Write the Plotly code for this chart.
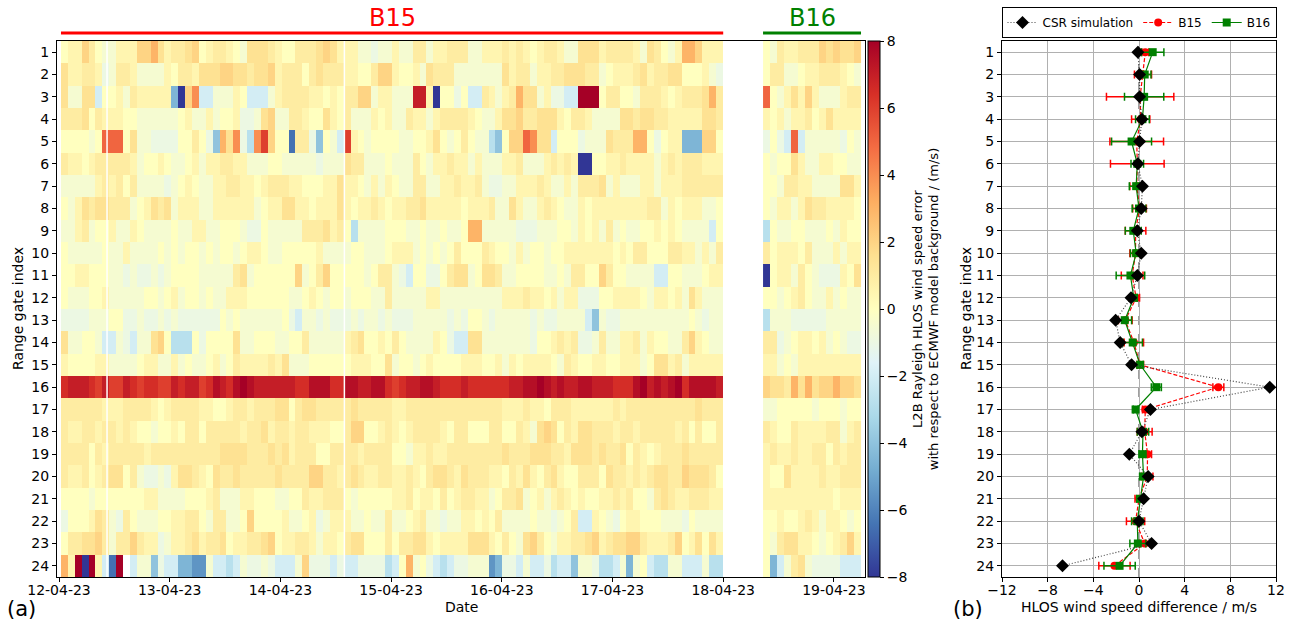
import numpy as np
import plotly.graph_objects as go

# ---------------- data ----------------
gates = list(range(1, 25))
date_ticks = [0, 1, 2, 3, 4, 5, 6, 7]  # days since 12-04-23 00:00
date_labels = ["12-04-23", "13-04-23", "14-04-23", "15-04-23",
               "16-04-23", "17-04-23", "18-04-23", "19-04-23"]

b15_period = [0.018, 6.0]     # days
b16_period = [6.36, 7.245]    # days
n_b15 = 96
n_b16 = 14
gap_days = [0.434, 2.578]     # short data gaps (white lines)

# colour-level code of each cell (L2B Rayleigh HLOS error, m/s)
level = {'0': 0.0, '1': 0.5, '2': 1.0, '3': 1.5, '4': 2.0, '5': 3.0, '6': 4.0,
         '7': 5.0, '8': 6.0, 'r': 6.5, '9': 7.0, 's': 7.5, 'X': 8.0,
         'a': -0.5, 'b': -1.0, 'c': -2.0, 'd': -2.8, 'e': -4.0, 'f': -4.5,
         'g': -5.5, 'h': -6.5, 'j': -8.0, '.': np.nan}

b15_rows = [
    "011420aa111445312234" "012210a3332100222343" "111aabaa" "1aa22a11222aa1112121" "01221aa333122221a320" "a1554111",
    "311221ba221aaaa10221" "33344332334122202322" "21100244" "1001a3222aaaaaaa3122" "a112233322a011123122" "330001ab",
    "3aa33c001a211111fj46" "ccaaa10ccca122221101" "02244a11" "aaa991j00b0cc21a1253" "3a1bbccXXX02200a2221" "01222352",
    "22230211100aaaaaa01a" "a1a001bba34aa2210031" "02aaa101" "aa211a1222210aa13342" "233310221aaaa3323322" "11111332",
    "0000a077703aabbbb002" "0be536bd68400h22be0a" "c810a000" "0aa00130a020aade0447" "633c000baaa3222550b0" "11fff440",
    "21101222221a0010aa01" "a112211aaa00aaaaabaa" "a322aaa0" "aaa20a11211a1aaa112a" "aa12121jj001121111a1" "21222111",
    "aaaaa121202aaaaba010" "aa112211012221100011" "3110a1a1" "0aa22aa112112abbaa11" "121aa1a2223a1aaa11a1" "11222222",
    "0a13233222a01323a111" "aa111111a01133110111" "31011210" "112231111101112aa31a" "a1210aa101111111122a" "10111aa0",
    "aa12a001aa10aaaa0aa1" "1aa000abb0aaaaa22231" "20daaaa0" "00aa0aa0aa055aaaaabb" "baaa00a101a2a0aa0010" "10aaaac0",
    "0aaaaa0aa1aaaa0a0a00" "a0a00a0110aa000001aa" "aa00aaa0" "111a0a0a020002100a1a" "00a00111111101022000" "2211a1a2",
    "0011000aababbaba0000" "aaaaa23a0000004a0240" "0000a022" "abc00bb0233a0332aa00" "00aa0a22004200aaaacc" "00aaa011",
    "0aaa001aaaaa00a01a00" "a0aa111000000aa010a0" "0a000aa2" "aaaaa11aaaaaaaaa1112" "1101a11bbb0011110a11" "01a31aaa",
    "bbbbaaa00bbabbababbb" "bbb0a0aaaaaa0bcaabab" "bbabaaba" "bbbaaaaabab00abaaaaa" "babbaaaaceabbaaaaaaa" "aaa0abaa",
    "3aa00accabcaa340ddd0" "b00003aa000aa002aaaa" "a1230010" "20aaaa10bcc33aaaaaaa" "b001212bba2aa112a100" "aa2410aa",
    "1000011aaaa011aa1a0a" "a01a021111213aaa0000" "00111003" "a00a010000111001a101" "1110a21001100111a033" "12a11111",
    "r999r89889r8rr889r99" "8rs9rsXs999999rrsssr" "rss99ssr" "8r99ss9rrr9rrrrrr99s" "sXs9s99ss999rrrsX9s9" "sXrssss9",
    "22222211122221012222" "11001221222330233222" "22322222" "11222222222222221112" "11022211111121222222" "22223222",
    "2112212212100a001022" "02222212231221221110" "02440012" "10122221022000220021" "a3430213322212212222" "21202002",
    "22220212222212222222" "22233332223231222002" "22212222" "00a11211222222223222" "33322133323223021012" "22322222",
    "21120123302abbab1332" "10322322222322224422" "12321122" "11210233213222110213" "10231002220322121233" "22433320",
    "0000a000000011aaaa00" "012aaa11000aa0021122" "20a00000" "11201102012211a0223a" "01a12101001121200a23" "21122211",
    "b000132ab20aaa001122" "0a22aa0400001aa01ba1" "11aa0aa2" "aa012aabaa110102aaaa" "0aaba02cc10ab011000a" "aab0aaaa",
    "0223342a224211ba1123" "12230112234011221a11" "02330002" "022331011113331020a3" "420a1122341233442111" "24013031",
    "51XjX1chX.caaebccffg" "gaccdcabbabccca4bbbc" "bccbbbbd" "c05a0bcdcbbaaagfbbca" "ccbdcceaabddcafa0cdd" "aacccadd",
]

b16_rows = [
    "0a211222434334", "022aa01122210a", "70a13141aaa122", "101a1120131111",
    "b0bc7caaaaab0a", "0a0031aa1100aa", "00a2211aaaa331", "0a11a132211110",
    "d0aa00aaa0a100", "2011102aaa1a11", "j011a20abbb103", "00a0120aa1a0aa",
    "daaabbbbbaaaaa", "22ba01101a0abb", "11a0a111111111", "43325353445443",
    "aa00000a000a00", "21002111122a12", "12112112202122", "10031111211222",
    "11111111110111", "00100121a110a0", "0a233110a01241", "0fca23abbbbccc",
]

# profile panel (m/s)
csr_sim = [-0.1, 0.05, 0.05, 0.25, 0.05, -0.1, 0.3, 0.2, -0.15, 0.2, -0.15, -0.7,
           -2.05, -1.65, -0.65, 11.45, 1.0, 0.25, -0.85, 0.8, 0.4, 0.0, 1.1, -6.7]
b15_mean = [0.55, 0.35, 0.1, 0.15, -0.2, -0.15, -0.2, 0.05, -0.3, -0.3, -0.6, -0.25,
            -1.2, -0.45, 0.1, 6.95, 0.55, 0.5, 0.75, 0.72, 0.0, -0.3, 0.5, -2.15]
b15_err = [0.3, 0.75, 2.95, 0.8, 2.35, 2.35, 0.6, 0.6, 0.9, 0.5, 0.95, 0.3,
           0.6, 0.85, 0.3, 0.48, 0.25, 0.65, 0.35, 0.5, 0.35, 0.8, 0.45, 1.37]
b16_mean = [1.2, 0.5, 0.45, 0.3, -0.65, -0.15, -0.25, 0.0, -0.5, -0.25, -0.75, -0.45,
            -1.25, -0.55, 0.1, 1.52, -0.3, 0.35, 0.3, 0.4, 0.1, -0.15, -0.1, -1.7]
b16_err = [0.98, 0.55, 1.72, 0.6, 1.75, 0.55, 0.6, 0.6, 0.7, 0.5, 1.25, 0.3,
           0.6, 0.85, 0.25, 0.44, 0.2, 0.5, 0.3, 0.35, 0.3, 0.5, 0.7, 1.37]


def decode(rows, n):
    z = []
    for r in rows:
        vals = [level.get(c, np.nan) for c in r[:n]]
        vals += [np.nan] * (n - len(vals))
        z.append(vals)
    return z


def centers(period, n):
    step = (period[1] - period[0]) / n
    return [period[0] + (k + 0.5) * step for k in range(n)]


z15 = decode(b15_rows, n_b15)
z16 = decode(b16_rows, n_b16)
x15 = centers(b15_period, n_b15)
x16 = centers(b16_period, n_b16)

W, H = 1292, 627
FONT = "DejaVu Sans"


def px(x):
    return x / W


def py(y):
    return 1 - y / H


fig = go.Figure()
fig.add_trace(go.Heatmap(z=z15, x=x15, y=gates, coloraxis="coloraxis",
                         xaxis="x", yaxis="y", showlegend=False))
fig.add_trace(go.Heatmap(z=z16, x=x16, y=gates, coloraxis="coloraxis",
                         xaxis="x", yaxis="y", showlegend=False))

# right panel
fig.add_trace(go.Scatter(
    x=b15_mean, y=gates, xaxis="x2", yaxis="y2", name="B15", legendrank=2,
    mode="lines+markers", line=dict(color="red", width=1.2, dash="4px,2px"),
    marker=dict(symbol="circle", size=8, color="red"),
    error_x=dict(type="data", array=b15_err, color="red", thickness=1.5, width=4)))
fig.add_trace(go.Scatter(
    x=b16_mean, y=gates, xaxis="x2", yaxis="y2", name="B16", legendrank=3,
    mode="lines+markers", line=dict(color="green", width=1.2),
    marker=dict(symbol="square", size=8, color="green"),
    error_x=dict(type="data", array=b16_err, color="green", thickness=1.5, width=4)))
fig.add_trace(go.Scatter(
    x=csr_sim, y=gates, xaxis="x2", yaxis="y2", name="CSR simulation", legendrank=1,
    mode="lines+markers", line=dict(color="#444444", width=1.2, dash="1px,2px"),
    marker=dict(symbol="diamond", size=10, color="black")))

shapes = []
for g in gap_days:
    shapes.append(dict(type="line", xref="x", yref="y", x0=g, x1=g, y0=0.5, y1=24.5,
                       line=dict(color="white", width=1.5)))
shapes.append(dict(type="line", xref="x", yref="paper", x0=b15_period[0], x1=b15_period[1],
                   y0=py(33), y1=py(33), line=dict(color="red", width=3)))
shapes.append(dict(type="line", xref="x", yref="paper", x0=b16_period[0], x1=b16_period[1],
                   y0=py(33), y1=py(33), line=dict(color="green", width=3)))
shapes.append(dict(type="line", xref="x2", yref="y2 domain", x0=0, x1=0, y0=0, y1=1,
                   layer="below", line=dict(color="#808080", width=1.5, dash="dash")))


def label(text, x, y, size=14, color="black", angle=0, xref="paper"):
    return dict(text=text, x=x, y=y, xref=xref, yref="paper", xanchor="center",
                yanchor="middle", textangle=angle, showarrow=False,
                font=dict(size=size, color=color, family=FONT))


annotations = [
    label("B15", sum(b15_period) / 2, py(18), size=24, color="red", xref="x"),
    label("B16", sum(b16_period) / 2, py(18), size=24, color="green", xref="x"),
    label("Date", px(461), py(607)),
    label("Range gate index", px(18), py(309), angle=-90),
    label("Range gate index", px(966), py(309), angle=-90),
    label("HLOS wind speed difference / m/s", px(1139), py(607)),
    label("(a)", px(21), py(609), size=21),
    label("(b)", px(968), py(609), size=21),
]

axis_common = dict(showline=True, linecolor="black", linewidth=1.2, mirror=True,
                   ticks="outside", ticklen=4, tickcolor="black", zeroline=False,
                   automargin=False,
                   tickfont=dict(size=14, color="black", family=FONT))

fig.update_layout(
    width=W, height=H, margin=dict(l=0, r=0, t=0, b=0, autoexpand=False),
    paper_bgcolor="white", plot_bgcolor="white",
    font=dict(family=FONT, color="black"),
    xaxis=dict(domain=[px(57), px(865)], range=[-2 / 110.7, 806 / 110.7],
               tickvals=date_ticks, ticktext=date_labels, showgrid=False,
               anchor="y", ticklabelstandoff=-4, **axis_common),
    yaxis=dict(domain=[py(577), py(41)], range=[24.5, 0.5], tickvals=gates,
               showgrid=False, anchor="x", **axis_common),
    xaxis2=dict(domain=[px(1002), px(1276)], range=[-12, 12],
                tickvals=[-12, -8, -4, 0, 4, 8, 12], showgrid=True,
                gridcolor="#b0b0b0", gridwidth=1, anchor="y2",
                ticklabelstandoff=-4, **axis_common),
    yaxis2=dict(domain=[py(577), py(41)], range=[24.5, 0.5], tickvals=gates,
                showgrid=True, gridcolor="#b0b0b0", gridwidth=1, anchor="x2",
                **axis_common),
    coloraxis=dict(
        colorscale="RdYlBu_r", cmin=-8, cmax=8,
        colorbar=dict(
            x=px(868), xanchor="left", y=py(309), yanchor="middle",
            thickness=12, thicknessmode="pixels", len=536, lenmode="pixels",
            xpad=0, ypad=0, outlinewidth=1, outlinecolor="black",
            ticks="outside", ticklen=4, tickcolor="black",
            tickvals=[-8, -6, -4, -2, 0, 2, 4, 6, 8],
            tickfont=dict(size=14, color="black", family=FONT),
            title=dict(text="L2B Rayleigh HLOS wind speed error<br>"
                            "with respect to ECMWF model background / (m/s)",
                       side="right", font=dict(size=13, color="black", family=FONT)),
        ),
    ),
    legend=dict(orientation="h", x=px(1139), xanchor="center", y=py(7),
                yanchor="top", bordercolor="black", borderwidth=1, bgcolor="white",
                font=dict(size=12, color="black", family=FONT),
                itemwidth=30, tracegroupgap=0),
    shapes=shapes,
    annotations=annotations,
)

fig.write_html("out.html")
